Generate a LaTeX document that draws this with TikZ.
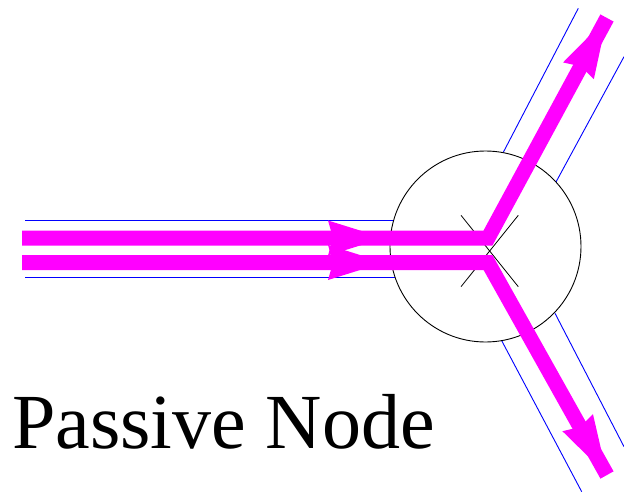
\documentclass[tikz,border=0pt]{standalone}
\usepackage{fontspec}
\setmainfont{Liberation Serif}
\usetikzlibrary{calc}
\definecolor{mag}{RGB}{255,0,255}
\tikzset{
  chan/.style={blue, line width=0.9pt},
  flow/.style={mag, line width=15pt, line join=miter, line cap=butt},
  ring/.style={draw=black, line width=0.9pt},
  tick/.style={black, line width=0.8pt},
}
\newcommand\flowhead[4]{%
  \coordinate (#1-m) at ($(#1)!#3!(#2)$);
  \coordinate (#1-n) at ($(#1)!#3-5pt!(#2)$);
  \fill[mag] (#1) -- ($(#1-m)!#4!90:(#1)$) -- (#1-n) -- ($(#1-m)!#4!-90:(#1)$) -- cycle;
}
\begin{document}
\begin{tikzpicture}[x=1pt,y=-1pt]
\useasboundingbox (0,0) rectangle (624,492);
% channel walls
\draw[chan] (25,220.7) -- (393.6,220.7);
\draw[chan] (25,277.3) -- (395.1,277.3);
\draw[chan] (503.3,152.3) -- (578.3,8.3);
\draw[chan] (556,182) -- (624,56.7);
\draw[chan] (501.7,340.7) -- (581.7,491.7);
\draw[chan] (555,313.3) -- (624,446.7);
% passive node
\node[circle, ring, minimum size=191pt, inner sep=0pt] (pn) at (485.5,246.5) {};
\coordinate (xa) at (461,215.3);
\coordinate (xb) at (518.3,286.7);
\coordinate (xc) at (518.3,215.3);
\coordinate (xd) at (461,286.7);
\draw[tick] (xa) -- (xb);
\draw[tick] (xc) -- (xd);
% flows
\coordinate (s1) at (22,238);
\coordinate (c1) at (488,238);
\coordinate (e1) at (607,18);
\coordinate (s2) at (22,262.5);
\coordinate (c2) at (488,262.5);
\coordinate (e2) at (607,475);
\coordinate (t1) at (384,238);
\coordinate (t2) at (384,262.5);
\draw[flow] (s1) -- (c1) -- (e1);
\draw[flow] (s2) -- (c2) -- (e2);
\flowhead{t1}{s1}{56pt}{17.5pt}
\flowhead{t2}{s2}{56pt}{17.5pt}
\flowhead{e1}{c1}{60pt}{17.5pt}
\flowhead{e2}{c2}{60pt}{17.5pt}
% label
\node[anchor=base west, inner sep=0pt, font=\fontsize{78}{80}\selectfont] (lbl) at (12,448) {Passive Node};
\end{tikzpicture}
\end{document}
